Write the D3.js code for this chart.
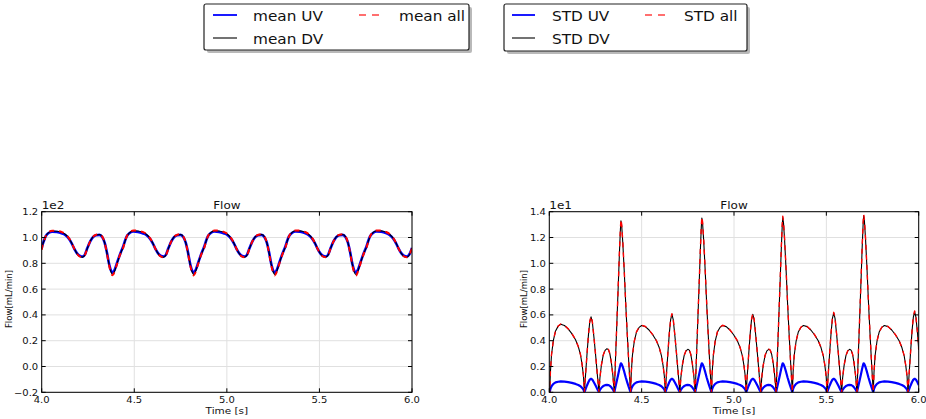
<!DOCTYPE html>
<html><head><meta charset="utf-8">
<script src="https://cdn.jsdelivr.net/npm/d3@7"></script>
<style>html,body{margin:0;padding:0;background:#fff;}svg{display:block;}</style>
</head><body>
<script>
// ---------- DATA ----------
const xTicks = [4.0, 4.5, 5.0, 5.5, 6.0];
const meanYTicks = [-0.2, 0.0, 0.2, 0.4, 0.6, 0.8, 1.0, 1.2];
const stdYTicks = [0.0, 0.2, 0.4, 0.6, 0.8, 1.0, 1.2, 1.4];
const meanLegend = ["mean UV", "mean DV", "mean all"];
const stdLegend = ["STD UV", "STD DV", "STD all"];

const meanTime = [4.000,
4.002,4.012,4.022,4.037,4.057,4.082,4.107,4.127,4.147,4.162,4.177,4.192,4.207,4.221,4.234,4.247,4.262,4.277,4.294,4.312,4.327,4.340,4.352,4.364,4.374,4.383,4.394,4.406,4.418,4.430,
4.440,4.450,4.460,4.475,4.495,4.520,4.545,4.565,4.585,4.600,4.615,4.630,4.645,4.659,4.672,4.685,4.700,4.715,4.732,4.750,4.765,4.778,4.790,4.802,4.812,4.821,4.832,4.844,4.856,4.868,
4.878,4.888,4.898,4.913,4.933,4.958,4.983,5.003,5.023,5.038,5.053,5.068,5.083,5.097,5.110,5.123,5.138,5.153,5.170,5.188,5.203,5.216,5.228,5.240,5.250,5.259,5.270,5.282,5.294,5.306,
5.316,5.326,5.336,5.351,5.371,5.396,5.421,5.441,5.461,5.476,5.491,5.506,5.521,5.535,5.548,5.561,5.576,5.591,5.608,5.626,5.641,5.654,5.666,5.678,5.688,5.697,5.708,5.720,5.732,5.744,
5.754,5.764,5.774,5.789,5.809,5.834,5.859,5.879,5.899,5.914,5.929,5.944,5.959,5.973,5.986,6.000];

const meanUV = [0.915,
0.93,0.975,1.01,1.035,1.045,1.042,1.033,1.02,0.99,0.955,0.91,0.875,0.857,0.852,0.87,0.92,0.97,1.003,1.018,1.02,1.003,0.96,0.885,0.795,0.745,0.727,0.75,0.80,0.85,0.895,
0.93,0.975,1.01,1.035,1.046,1.043,1.033,1.02,0.99,0.955,0.91,0.875,0.857,0.853,0.87,0.92,0.97,1.003,1.018,1.02,1.003,0.96,0.885,0.795,0.745,0.728,0.75,0.80,0.85,0.895,
0.93,0.975,1.01,1.035,1.046,1.043,1.033,1.02,0.99,0.955,0.91,0.875,0.857,0.853,0.87,0.92,0.97,1.003,1.018,1.02,1.003,0.96,0.885,0.795,0.745,0.727,0.75,0.80,0.85,0.895,
0.93,0.975,1.01,1.035,1.047,1.044,1.034,1.02,0.99,0.955,0.91,0.875,0.857,0.853,0.87,0.92,0.97,1.003,1.018,1.02,1.003,0.96,0.885,0.795,0.745,0.727,0.75,0.80,0.85,0.895,
0.93,0.975,1.01,1.035,1.047,1.044,1.034,1.02,0.99,0.955,0.91,0.875,0.857,0.853,0.87,0.92];

const meanDV = [0.91,
0.925,0.972,1.01,1.038,1.05,1.049,1.04,1.025,0.993,0.957,0.91,0.873,0.853,0.848,0.867,0.918,0.97,1.004,1.02,1.023,1.006,0.96,0.882,0.789,0.734,0.713,0.74,0.793,0.847,0.892,
0.925,0.972,1.01,1.038,1.051,1.05,1.04,1.025,0.993,0.957,0.91,0.873,0.853,0.848,0.867,0.918,0.97,1.004,1.02,1.023,1.006,0.96,0.882,0.789,0.734,0.712,0.74,0.793,0.847,0.892,
0.925,0.972,1.01,1.038,1.051,1.05,1.04,1.025,0.993,0.957,0.91,0.873,0.853,0.848,0.867,0.918,0.97,1.004,1.02,1.023,1.006,0.96,0.882,0.789,0.734,0.712,0.74,0.793,0.847,0.892,
0.925,0.972,1.01,1.038,1.052,1.051,1.041,1.025,0.993,0.957,0.91,0.873,0.853,0.848,0.867,0.918,0.97,1.004,1.02,1.023,1.006,0.96,0.882,0.789,0.734,0.711,0.74,0.793,0.847,0.892,
0.925,0.972,1.01,1.038,1.052,1.051,1.041,1.025,0.993,0.957,0.91,0.873,0.853,0.848,0.867,0.918];

const meanAll = [0.905,
0.92,0.97,1.01,1.04,1.053,1.052,1.043,1.028,0.995,0.958,0.91,0.872,0.851,0.846,0.866,0.918,0.97,1.005,1.022,1.025,1.008,0.96,0.88,0.785,0.728,0.707,0.735,0.79,0.845,0.89,
0.92,0.97,1.01,1.04,1.054,1.053,1.043,1.028,0.995,0.958,0.91,0.872,0.851,0.846,0.866,0.918,0.97,1.005,1.022,1.025,1.008,0.96,0.88,0.785,0.728,0.706,0.735,0.79,0.845,0.89,
0.92,0.97,1.01,1.04,1.054,1.053,1.043,1.028,0.995,0.958,0.91,0.872,0.851,0.846,0.866,0.918,0.97,1.005,1.022,1.025,1.008,0.96,0.88,0.785,0.728,0.706,0.735,0.79,0.845,0.89,
0.92,0.97,1.01,1.04,1.055,1.054,1.044,1.028,0.995,0.958,0.91,0.872,0.851,0.846,0.866,0.918,0.97,1.005,1.022,1.025,1.008,0.96,0.88,0.785,0.728,0.705,0.735,0.79,0.845,0.89,
0.92,0.97,1.01,1.04,1.055,1.054,1.044,1.028,0.995,0.958,0.91,0.872,0.851,0.846,0.866,0.918];

const stdTime = [4.000,
4.002,4.006,4.012,4.022,4.034,4.048,4.062,4.082,4.102,4.122,4.142,4.157,4.169,4.178,4.185,4.190,
4.196,4.204,4.212,4.219,4.226,4.233,4.242,4.252,4.261,4.269,
4.274,4.282,4.292,4.302,4.312,4.320,4.328,4.336,4.344,4.352,
4.358,4.366,4.374,4.380,4.385,4.388,4.392,4.398,4.406,4.414,4.422,4.430,4.436,
4.440,4.444,4.450,4.460,4.472,4.486,4.500,4.520,4.540,4.560,4.580,4.595,4.607,4.616,4.623,4.628,
4.634,4.642,4.650,4.657,4.664,4.671,4.680,4.690,4.699,4.707,
4.712,4.720,4.730,4.740,4.750,4.758,4.766,4.774,4.782,4.790,
4.796,4.804,4.812,4.818,4.823,4.826,4.830,4.836,4.844,4.852,4.860,4.868,4.874,
4.878,4.882,4.888,4.898,4.910,4.924,4.938,4.958,4.978,4.998,5.018,5.033,5.045,5.054,5.061,5.066,
5.072,5.080,5.088,5.095,5.102,5.109,5.118,5.128,5.137,5.145,
5.150,5.158,5.168,5.178,5.188,5.196,5.204,5.212,5.220,5.228,
5.234,5.242,5.250,5.256,5.261,5.264,5.268,5.274,5.282,5.290,5.298,5.306,5.312,
5.316,5.320,5.326,5.336,5.348,5.362,5.376,5.396,5.416,5.436,5.456,5.471,5.483,5.492,5.499,5.504,
5.510,5.518,5.526,5.533,5.540,5.547,5.556,5.566,5.575,5.583,
5.588,5.596,5.606,5.616,5.626,5.634,5.642,5.650,5.658,5.666,
5.672,5.680,5.688,5.694,5.699,5.702,5.706,5.712,5.720,5.728,5.736,5.744,5.750,
5.754,5.758,5.764,5.774,5.786,5.800,5.814,5.834,5.854,5.874,5.894,5.909,5.921,5.930,5.937,5.942,
5.948,5.956,5.964,5.971,5.978,5.985,5.994,6.000];

const stdAll = [0.03,
0,0.159,0.292,0.403,0.477,0.514,0.53,0.519,0.493,0.456,0.408,0.355,0.292,0.212,0.127,0,
0.130,0.295,0.448,0.549,0.59,0.549,0.425,0.271,0.124,0,
0.112,0.211,0.289,0.326,0.34,0.333,0.299,0.231,0.136,0,
0.241,0.549,0.858,1.099,1.273,1.34,1.300,1.166,0.938,0.683,0.456,0.241,0.094,
0,0.156,0.286,0.395,0.468,0.504,0.52,0.510,0.484,0.447,0.400,0.348,0.286,0.208,0.125,0,
0.134,0.305,0.464,0.567,0.61,0.567,0.439,0.281,0.128,0,
0.111,0.208,0.285,0.322,0.335,0.328,0.295,0.228,0.134,0,
0.245,0.558,0.870,1.115,1.292,1.36,1.319,1.183,0.952,0.694,0.462,0.245,0.095,
0,0.156,0.286,0.395,0.468,0.504,0.52,0.510,0.484,0.447,0.400,0.348,0.286,0.208,0.125,0,
0.134,0.305,0.464,0.567,0.61,0.567,0.439,0.281,0.128,0,
0.111,0.208,0.285,0.322,0.335,0.328,0.295,0.228,0.134,0,
0.246,0.560,0.874,1.119,1.297,1.365,1.324,1.188,0.956,0.696,0.464,0.246,0.096,
0,0.156,0.286,0.395,0.468,0.504,0.52,0.510,0.484,0.447,0.400,0.348,0.286,0.208,0.125,0,
0.136,0.310,0.471,0.577,0.62,0.577,0.446,0.285,0.130,0,
0.111,0.208,0.285,0.322,0.335,0.328,0.295,0.228,0.134,0,
0.248,0.566,0.883,1.132,1.311,1.38,1.339,1.201,0.966,0.704,0.469,0.248,0.097,
0,0.156,0.286,0.395,0.468,0.504,0.52,0.510,0.484,0.447,0.400,0.348,0.286,0.208,0.125,0,
0.139,0.315,0.479,0.586,0.63,0.586,0.454,0.33];

const stdDV = [0.03,
0,0.158,0.291,0.402,0.476,0.513,0.528,0.518,0.492,0.455,0.407,0.354,0.291,0.211,0.126,0,
0.129,0.293,0.445,0.545,0.585,0.545,0.422,0.269,0.123,0,
0.111,0.210,0.288,0.325,0.338,0.331,0.298,0.230,0.135,0,
0.239,0.545,0.852,1.091,1.263,1.33,1.290,1.157,0.931,0.678,0.452,0.239,0.093,
0,0.155,0.285,0.394,0.467,0.503,0.518,0.509,0.483,0.446,0.399,0.347,0.285,0.207,0.124,0,
0.133,0.303,0.461,0.563,0.605,0.563,0.436,0.279,0.127,0,
0.110,0.207,0.284,0.321,0.333,0.327,0.294,0.227,0.133,0,
0.243,0.554,0.864,1.107,1.282,1.35,1.309,1.174,0.945,0.689,0.459,0.243,0.094,
0,0.155,0.285,0.394,0.467,0.503,0.518,0.509,0.483,0.446,0.399,0.347,0.285,0.207,0.124,0,
0.133,0.303,0.461,0.563,0.605,0.563,0.436,0.279,0.127,0,
0.110,0.207,0.284,0.321,0.333,0.327,0.294,0.227,0.133,0,
0.244,0.556,0.868,1.111,1.287,1.355,1.314,1.179,0.949,0.691,0.461,0.244,0.095,
0,0.155,0.285,0.394,0.467,0.503,0.518,0.509,0.483,0.446,0.399,0.347,0.285,0.207,0.124,0,
0.135,0.308,0.468,0.573,0.615,0.573,0.443,0.283,0.129,0,
0.110,0.207,0.284,0.321,0.333,0.327,0.294,0.227,0.133,0,
0.246,0.562,0.877,1.124,1.301,1.37,1.329,1.192,0.959,0.699,0.466,0.246,0.096,
0,0.155,0.285,0.394,0.467,0.503,0.518,0.509,0.483,0.446,0.399,0.347,0.285,0.207,0.124,0,
0.138,0.313,0.476,0.582,0.625,0.582,0.451,0.328];

const stdUV = [0.005,
0,0.026,0.047,0.065,0.077,0.082,0.085,0.083,0.079,0.073,0.065,0.057,0.047,0.034,0.020,0,
0.023,0.053,0.080,0.098,0.105,0.098,0.076,0.048,0.022,0,
0.019,0.035,0.048,0.055,0.057,0.056,0.050,0.039,0.023,0,
0.041,0.092,0.144,0.185,0.214,0.225,0.218,0.196,0.158,0.115,0.077,0.041,0.016,
0,0.026,0.047,0.065,0.077,0.082,0.085,0.083,0.079,0.073,0.065,0.057,0.047,0.034,0.020,0,
0.023,0.053,0.080,0.098,0.105,0.098,0.076,0.048,0.022,0,
0.019,0.035,0.048,0.055,0.057,0.056,0.050,0.039,0.023,0,
0.041,0.092,0.144,0.185,0.214,0.225,0.218,0.196,0.158,0.115,0.077,0.041,0.016,
0,0.026,0.047,0.065,0.077,0.082,0.085,0.083,0.079,0.073,0.065,0.057,0.047,0.034,0.020,0,
0.023,0.053,0.080,0.098,0.105,0.098,0.076,0.048,0.022,0,
0.019,0.035,0.048,0.055,0.057,0.056,0.050,0.039,0.023,0,
0.041,0.092,0.144,0.185,0.214,0.225,0.218,0.196,0.158,0.115,0.077,0.041,0.016,
0,0.026,0.047,0.065,0.077,0.082,0.085,0.083,0.079,0.073,0.065,0.057,0.047,0.034,0.020,0,
0.023,0.053,0.080,0.098,0.105,0.098,0.076,0.048,0.022,0,
0.019,0.035,0.048,0.055,0.057,0.056,0.050,0.039,0.023,0,
0.041,0.092,0.144,0.185,0.214,0.225,0.218,0.196,0.158,0.115,0.077,0.041,0.016,
0,0.026,0.047,0.065,0.077,0.082,0.085,0.083,0.079,0.073,0.065,0.057,0.047,0.034,0.020,0,
0.023,0.053,0.080,0.098,0.105,0.098,0.076,0.055];

// ---------- DRAW ----------
const W = 926, H = 419;
const FONT = "DejaVu Sans";
const SQ = 0.9; // slight vertical text squash seen in the reference
const svg = d3.select("body").append("svg").attr("width", W).attr("height", H);

function txt(g, x, y, s, size, anchor, rot) {
  return g.append("text")
    .attr("transform", rot ? `translate(${x},${y}) rotate(-90) scale(${SQ},1)` : `translate(${x},${y}) scale(1,${SQ})`)
    .attr("font-family", FONT).attr("font-size", size)
    .attr("text-anchor", anchor || "start").attr("fill", "#111").text(s);
}
const fmt = v => (v < 0 ? "\u2212" : "") + Math.abs(v).toFixed(1);

const styles = {
  UV: {color: "#0000ff", width: 2.2, dash: null},
  DV: {color: "#000000", width: 1.1, dash: null},
  all: {color: "#ff0000", width: 1.4, dash: "5,5"}
};

function panel(id, box, yDomain, yTicks, offsetLabel, time, series) {
  const x = d3.scaleLinear().domain([4, 6]).range([box.x0, box.x1]);
  const y = d3.scaleLinear().domain(yDomain).range([box.y1, box.y0]);
  const g = svg.append("g");
  g.selectAll(".gx").data(xTicks).join("line")
    .attr("x1", d => x(d)).attr("x2", d => x(d)).attr("y1", box.y0).attr("y2", box.y1)
    .attr("stroke", "#e0e0e0").attr("stroke-width", 1);
  g.selectAll(".gy").data(yTicks).join("line")
    .attr("y1", d => y(d)).attr("y2", d => y(d)).attr("x1", box.x0).attr("x2", box.x1)
    .attr("stroke", "#e0e0e0").attr("stroke-width", 1);
  svg.append("clipPath").attr("id", "clip" + id).append("rect")
    .attr("x", box.x0).attr("y", box.y0 - 2).attr("width", box.x1 - box.x0).attr("height", box.y1 - box.y0 + 2);
  const pg = g.append("g").attr("clip-path", `url(#clip${id})`);
  series.forEach(s => {
    const st = styles[s.key];
    const line = d3.line().x((d, i) => x(time[i])).y(d => y(d)).curve(s.curve);
    pg.append("path").datum(s.values).attr("d", line)
      .attr("fill", "none").attr("stroke", st.color).attr("stroke-width", s.width || st.width)
      .attr("stroke-dasharray", st.dash).attr("stroke-linejoin", "round");
  });
  g.append("rect").attr("x", box.x0).attr("y", box.y0).attr("width", box.x1 - box.x0).attr("height", box.y1 - box.y0)
    .attr("fill", "none").attr("stroke", "#000").attr("stroke-width", 1);
  const tl = 4;
  xTicks.forEach(t => {
    g.append("line").attr("x1", x(t)).attr("x2", x(t)).attr("y1", box.y1).attr("y2", box.y1 - tl).attr("stroke", "#000");
    g.append("line").attr("x1", x(t)).attr("x2", x(t)).attr("y1", box.y0).attr("y2", box.y0 + tl).attr("stroke", "#000");
    txt(g, x(t), box.y1 + 11, t.toFixed(1), 10, "middle");
  });
  yTicks.forEach(t => {
    g.append("line").attr("y1", y(t)).attr("y2", y(t)).attr("x1", box.x0).attr("x2", box.x0 + tl).attr("stroke", "#000");
    g.append("line").attr("y1", y(t)).attr("y2", y(t)).attr("x1", box.x1).attr("x2", box.x1 - tl).attr("stroke", "#000");
    txt(g, box.x0 - 3.5, y(t) + 3.5, fmt(t), 10, "end");
  });
  txt(g, box.x0, box.y0 - 3, offsetLabel, 12, "start");
  txt(g, (box.x0 + box.x1) / 2, box.y0 - 3, "Flow", 12, "middle");
  txt(g, (box.x0 + box.x1) / 2, box.y1 + 22, "Time [s]", 10.5, "middle");
  txt(g, box.ylab, (box.y0 + box.y1) / 2 - 3, "Flow[mL/min]", 9.5, "middle", true);
}

const yTop = 211.7, yBot = 392.3;
panel("L", {x0: 41.7, x1: 412, y0: yTop, y1: yBot, ylab: 11.5}, [-0.2, 1.2], meanYTicks, "1e2", meanTime, [
  {key: "UV", values: meanUV, curve: d3.curveMonotoneX, width: 2.6},
  {key: "DV", values: meanDV, curve: d3.curveMonotoneX},
  {key: "all", values: meanAll, curve: d3.curveMonotoneX, width: 2}
]);
panel("R", {x0: 549.3, x1: 918.7, y0: yTop, y1: yBot, ylab: 527}, [0, 1.4], stdYTicks, "1e1", stdTime, [
  {key: "UV", values: stdUV, curve: d3.curveLinear},
  {key: "DV", values: stdDV, curve: d3.curveLinear},
  {key: "all", values: stdAll, curve: d3.curveLinear}
]);

function legend(box, labels, l1, t1, l2, t2) {
  const g = svg.append("g");
  g.append("rect").attr("x", box.x + 3).attr("y", box.y + 3).attr("width", box.w).attr("height", box.h)
    .attr("fill", "#7f7f7f").attr("opacity", 0.55).attr("rx", 2);
  g.append("rect").attr("x", box.x).attr("y", box.y).attr("width", box.w).attr("height", box.h)
    .attr("fill", "#fff").attr("stroke", "#222").attr("stroke-width", 1.2).attr("rx", 2);
  const items = [
    {key: "UV", lx: l1, tx: t1, ly: box.y + 11},
    {key: "DV", lx: l1, tx: t1, ly: box.y + 34},
    {key: "all", lx: l2, tx: t2, ly: box.y + 11}
  ];
  items.forEach((it, i) => {
    const st = styles[it.key];
    g.append("line").attr("x1", it.lx[0]).attr("x2", it.lx[1]).attr("y1", it.ly).attr("y2", it.ly)
      .attr("stroke", it.key === "all" ? "#ff4040" : st.color)
      .attr("stroke-width", it.key === "DV" ? 1.1 : (it.key === "UV" ? 1.8 : 1.5))
      .attr("stroke-dasharray", it.key === "all" ? "7,6" : null);
    txt(g, it.tx, it.ly + 6, labels[i], 15.3, "start");
  });
}
legend({x: 204, y: 4, w: 265, h: 46}, meanLegend, [213, 237], 253, [359, 381], 399);
legend({x: 504, y: 4, w: 243, h: 47}, stdLegend, [512, 535], 552, [645, 666], 684);
</script>
</body></html>
